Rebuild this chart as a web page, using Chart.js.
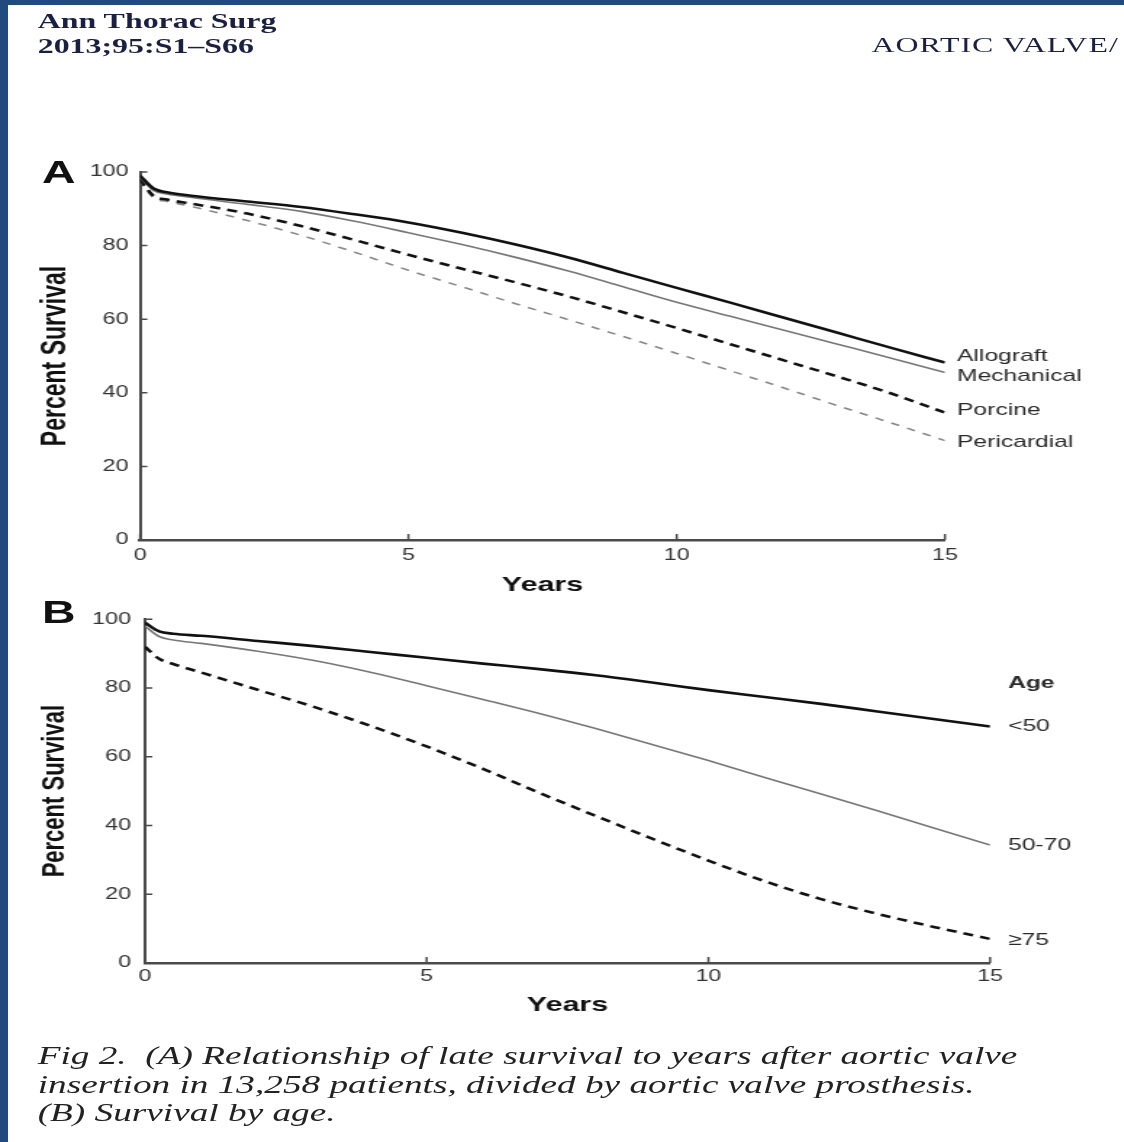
<!DOCTYPE html>
<html>
<head>
<meta charset="utf-8">
<script src="https://cdn.jsdelivr.net/npm/chart.js@4.4.1/dist/chart.umd.min.js"></script>
<style>
  html, body { margin: 0; padding: 0; background: #fff; }
  body { width: 1124px; height: 1142px; position: relative; overflow: hidden; }
  .edge { position: absolute; background: #214a7e; z-index: 5; }
  .edge.left { left: 0; top: 0; width: 8px; height: 1142px; }
  .edge.top { left: 0; top: 0; width: 1124px; height: 5px; }
  /* the page is laid out 775px wide and widened to the full 1124px */
  #page { position: absolute; left: 0; top: 0; width: 775px; height: 1142px;
          transform: scaleX(1.45); transform-origin: 0 0; overflow: hidden; }
  .journal { position: absolute; left: 26px; top: 8px; font: bold 22px/25px "Liberation Serif", serif; color: #1b2040; }
  .section { position: absolute; left: 601px; top: 32px; font: 22px/25px "Liberation Serif", serif;
             letter-spacing: 0.7px; color: #1b2040; white-space: nowrap; }
  .panel { position: absolute; left: 29px; font: bold 32px/32px "Liberation Sans", Arial, sans-serif; color: #111; }
  canvas { position: absolute; left: 0; }
  .caption { position: absolute; left: 26px; top: 1042px; font: italic 25.7px/28.5px "Liberation Serif", serif; color: #222; }
</style>
</head>
<body>
<div class="edge left"></div>
<div class="edge top"></div>
<div id="page">
  <div class="journal">Ann Thorac Surg<br>2013;95:S1–S66</div>
  <div class="section">AORTIC VALVE/</div>
  <div class="panel" style="top:156px">A</div>
  <div class="panel" style="top:596px">B</div>
  <canvas id="chartA" width="775" height="460" style="top:140px"></canvas>
  <canvas id="chartB" width="775" height="430" style="top:600px"></canvas>
  <div class="caption">Fig 2.&nbsp; (A) Relationship of late survival to years after aortic valve<br>insertion in 13,258 patients, divided by aortic valve prosthesis.<br>(B) Survival by age.</div>
</div>

<script>
// follow-up time points (years)
const years = [0, 0.25, 0.5, 1, 2, 3, 4, 5, 6, 7, 8, 9, 10, 11, 12, 13, 14, 15];

// A: survival by prosthesis type (%)
const allograft   = [99, 95.5, 94.5, 93.5, 92, 90.5, 88.5, 86.3, 83.5, 80.3, 76.7, 72.6, 68.5, 64.5, 60.4, 56.3, 52.2, 48.2];
const mechanical  = [98.5, 95, 94, 93, 91.2, 89.3, 86.6, 83.5, 80.3, 76.8, 73, 68.8, 64.6, 60.8, 57, 53.2, 49.4, 45.5];
const porcine     = [98, 93.5, 92.5, 91.3, 88.7, 85.3, 81.5, 77.5, 73.7, 70, 66.1, 61.9, 57.6, 53.2, 48.8, 44.4, 39.8, 34.6];
const pericardial = [97.5, 93, 92, 90.5, 86.8, 82.8, 78.2, 73.3, 68.8, 64.2, 59.8, 55.3, 50.7, 46, 41.3, 36.5, 31.8, 27];

// B: survival by age group (%)
const ageUnder50 = [99, 96.5, 95.8, 95.2, 93.7, 92.2, 90.5, 88.8, 87.1, 85.5, 83.7, 81.6, 79.4, 77.4, 75.4, 73.2, 71, 68.8];
const age50to70  = [98, 95, 94, 93, 90.7, 88, 84.6, 80.7, 76.7, 72.6, 68.2, 63.6, 58.9, 54, 49.2, 44.3, 39.3, 34.3];
const age75plus  = [92, 88.5, 87, 84.5, 79.5, 74.5, 69, 63, 56.5, 49.5, 42.8, 36.2, 29.8, 23.8, 18.6, 14.3, 10.5, 7];

const xTicks = [0, 5, 10, 15];
const yTicks = [0, 20, 40, 60, 80, 100];

const TICK_FONT = { family: 'Liberation Sans', size: 16 };
const AXIS_COLOR = '#4a4a4a';

function points(values) {
  return values.map((v, i) => ({ x: years[i], y: v }));
}

function series(label, values, color, width, dash) {
  return {
    label,
    data: points(values),
    borderColor: color,
    borderWidth: width,
    borderDash: dash || [],
    pointRadius: 0,
    fill: false,
    cubicInterpolationMode: 'monotone'
  };
}

// short tick marks pointing into the plot, as in the printed figure
const inwardTicks = {
  id: 'inwardTicks',
  afterDatasetsDraw(chart) {
    const { ctx, chartArea, scales: { x, y } } = chart;
    ctx.save();
    ctx.strokeStyle = AXIS_COLOR;
    ctx.lineWidth = 1.5;
    ctx.beginPath();
    y.ticks.forEach(t => {
      const py = y.getPixelForValue(t.value);
      ctx.moveTo(chartArea.left, py);
      ctx.lineTo(chartArea.left + 5, py);
    });
    x.ticks.forEach(t => {
      const px = x.getPixelForValue(t.value);
      ctx.moveTo(px, chartArea.bottom);
      ctx.lineTo(px, chartArea.bottom - 6);
    });
    ctx.stroke();
    ctx.restore();
  }
};

// series names written next to the end of each curve
const endLabels = {
  id: 'endLabels',
  afterDraw(chart, args, opts) {
    const { ctx, chartArea, scales: { y } } = chart;
    ctx.save();
    ctx.fillStyle = '#2a2a2a';
    ctx.textAlign = 'left';
    ctx.textBaseline = 'middle';
    ctx.font = '17px "Liberation Sans"';
    chart.data.datasets.forEach((ds, i) => {
      const last = ds.data[ds.data.length - 1];
      ctx.fillText(ds.label, chartArea.right + opts.gap, y.getPixelForValue(last.y) + (opts.nudge[i] || 0));
    });
    if (opts.heading) {
      ctx.font = 'bold 17px "Liberation Sans"';
      ctx.fillText(opts.heading, chartArea.right + opts.gap, y.getPixelForValue(opts.headingAt));
    }
    ctx.restore();
  }
};

function makeChart(id, datasets, box) {
  return new Chart(document.getElementById(id), {
    type: 'line',
    data: { datasets },
    plugins: [inwardTicks, endLabels],
    options: {
      responsive: false,
      animation: false,
      devicePixelRatio: 1,
      layout: { padding: { top: box.top, right: box.right, bottom: 0, left: 0 } },
      plugins: {
        legend: { display: false },
        tooltip: { enabled: false },
        endLabels: box.labels
      },
      scales: {
        x: {
          type: 'linear',
          min: 0,
          max: 15,
          afterBuildTicks: s => { s.ticks = xTicks.map(v => ({ value: v })); },
          afterFit: s => { s.height = box.xHeight; },
          grid: { display: false, drawTicks: false },
          border: { display: true, color: AXIS_COLOR, width: 2.5 },
          ticks: { color: '#333', font: TICK_FONT, padding: box.xPad, maxRotation: 0 },
          title: {
            display: true, text: 'Years', color: '#111',
            font: { family: 'Liberation Sans', size: 21, weight: 'bold' },
            padding: { top: 0, bottom: box.xTitlePad }
          }
        },
        y: {
          type: 'linear',
          min: 0,
          max: 100,
          afterBuildTicks: s => { s.ticks = yTicks.map(v => ({ value: v })); },
          afterFit: s => { s.width = box.yWidth; },
          grid: { display: false, drawTicks: false },
          border: { display: true, color: AXIS_COLOR, width: 2 },
          ticks: { color: '#333', font: TICK_FONT, padding: box.yPad },
          title: {
            display: true, text: 'Percent Survival', color: '#111',
            font: { family: 'Liberation Sans', size: box.yTitleSize, weight: 'bold' },
            padding: { top: box.yTitlePad, bottom: 0 }
          }
        }
      }
    }
  });
}

makeChart('chartA', [
  series('Allograft', allograft, '#111', 2.6),
  series('Mechanical', mechanical, '#777', 1.6),
  series('Porcine', porcine, '#111', 2.6, [7, 5]),
  series('Pericardial', pericardial, '#888', 1.6, [6, 6])
], {
  top: 32, right: 123.3, yWidth: 96.6, xHeight: 60,
  xPad: 6, yPad: 8, xTitlePad: 2.4, yTitlePad: 24.5, yTitleSize: 23,
  labels: { gap: 8.3, nudge: [-6, 4, -2, 2] }
});

makeChart('chartB', [
  series('<50', ageUnder50, '#111', 2.6),
  series('50-70', age50to70, '#777', 1.6),
  series('≥75', age75plus, '#111', 2.6, [7, 5])
], {
  top: 16, right: 92.2, yWidth: 100, xHeight: 67,
  xPad: 4, yPad: 9.7, xTitlePad: 12.4, yTitlePad: 25.1, yTitleSize: 22,
  labels: { gap: 12.4, nudge: [0, 0, 1], heading: 'Age', headingAt: 81.3 }
});
</script>
</body>
</html>
